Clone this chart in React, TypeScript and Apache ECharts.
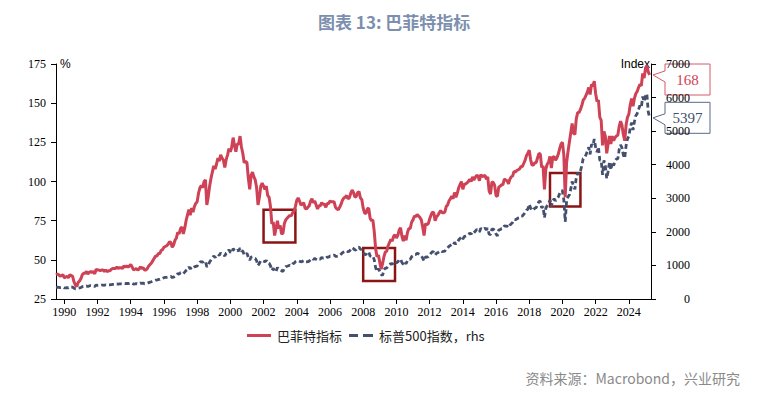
import React, { useEffect, useRef } from 'react';
import * as echarts from 'echarts';

// Monthly categories: 1989-07 .. 2025-05
const firstYear = 1989;
const firstMonth = 7;
const lastYear = 2025;
const lastMonth = 5;
const months: string[] = [];
for (let y = firstYear; y <= lastYear; y++) {
  const m0 = y === firstYear ? firstMonth : 1;
  const m1 = y === lastYear ? lastMonth : 12;
  for (let m = m0; m <= m1; m++) months.push(`${y}-${m < 10 ? '0' + m : m}`);
}

// Buffett indicator (%), monthly, 1989-07 .. 2025-04
const buffett = [
  40.5, 41, 40.5, 39.5, 40, 40.5,
  38.5, 39, 39.5, 38.5, 40.5, 40, 39.5, 36, 34, 33, 35.5, 36.5,
  38, 40.5, 41.5, 41.5, 42.5, 41, 42, 42.5, 42, 42.5, 41, 44,
  43.5, 43.5, 43, 43.5, 43.5, 42.5, 43.5, 42.5, 43, 43, 44, 44.5,
  44.5, 44.5, 45.5, 44.5, 45, 45, 44.5, 46, 45.5, 46, 45.5, 46,
  47, 45.5, 43.5, 44, 44.5, 43.5, 44, 45.5, 44.5, 45, 43.5, 43.5,
  44.5, 46, 47, 48, 49.5, 51, 52.5, 52.5, 54, 54, 56, 56.5,
  58, 58.5, 59, 60, 61.5, 61, 58, 59.5, 62.5, 64, 67.5, 66.5,
  70, 71, 66.5, 70, 75, 78.5, 82, 78.5, 83, 80.5, 84, 86,
  87, 92.5, 96, 97.5, 96, 100, 101, 85, 90, 97, 102, 106,
  110, 108, 111, 115, 113, 117, 115, 113.5, 109, 114, 117, 121,
  119, 122, 128, 123, 119, 124, 124, 129, 122, 118, 112, 113,
  112, 102, 95, 104, 106, 103, 101, 96, 85, 90, 97, 99,
  97, 95, 97, 91, 90, 84, 73, 74, 65.5, 70, 75, 70,
  72, 66.5, 67, 73, 75.5, 76.5, 77.5, 78.5, 78, 80, 81, 84,
  88, 89.5, 87.5, 85, 85.5, 86.5, 83, 82.5, 83.5, 84.5, 87.5, 89,
  86.5, 87.5, 85, 82.5, 84.5, 84.5, 86.5, 85.5, 85.5, 83.5, 86, 86,
  87.5, 87, 87, 87, 83.5, 82.5, 82, 83.5, 85.5, 88, 89.5, 90,
  91, 89, 89.5, 92.5, 94.5, 93, 90, 90.5, 93, 93.5, 89.5, 88.5,
  83, 80, 79.5, 82.5, 83, 76.5, 75, 75.5, 68, 57, 52, 53,
  48.5, 44, 47.5, 52, 55, 55.5, 59, 61, 63, 62, 65, 66,
  64, 65.5, 69, 70.5, 65, 62, 65.5, 62.5, 67.5, 70, 70, 74,
  75.5, 78, 77.5, 79, 78, 77, 75.5, 71, 65.5, 73, 72.5, 73,
  76, 78.5, 80.5, 80, 75, 77.5, 78.5, 80, 81.5, 80, 80, 80.5,
  84, 85, 87.5, 89, 90.5, 89, 93, 90, 92.5, 96, 98, 100,
  95, 98, 98.5, 99, 100, 101.5, 100, 103, 101, 102.5, 104, 103.5,
  100.5, 104.5, 103, 103.5, 104, 101.5, 103, 94, 92, 99.5, 99.5, 97.5,
  91, 90.5, 96.5, 97, 98, 98, 101.5, 101, 100.5, 98.5, 101.5, 103,
  103.5, 106.5, 106, 107, 107.5, 108, 109.5, 109.5, 111.5, 113.5, 116.5, 118,
  120, 114, 110.5, 110.5, 112, 112, 115, 118, 117.5, 109, 110, 95,
  108, 111, 112.5, 116, 108.5, 115.5, 116, 113.5, 115, 117.5, 121, 124,
  125, 117, 90, 112, 119, 125, 131, 137, 131, 130, 140, 144,
  144, 146, 148.5, 152, 153, 155, 157, 160, 155.5, 162, 161, 164,
  156, 151, 152, 141, 139, 123, 132, 129, 118, 124, 129, 124,
  129, 126, 128, 129, 129.5, 135, 138.5, 136, 130, 126, 136, 141,
  143, 149, 153, 148, 153, 156, 157.5, 160, 162, 161, 169, 166,
  172, 174, 170, 168,
];

// S&P 500 index (rhs), monthly, 1989-07 .. 2025-04
const sp500 = [
  346, 351, 349, 340, 346, 353,
  329, 332, 340, 331, 361, 358, 356, 323, 306, 304, 322, 330,
  344, 367, 375, 375, 390, 371, 388, 395, 388, 392, 375, 417,
  409, 413, 404, 415, 415, 408, 424, 414, 418, 419, 431, 436,
  439, 443, 452, 440, 450, 451, 448, 464, 459, 468, 462, 466,
  482, 467, 446, 451, 457, 444, 458, 475, 463, 472, 454, 459,
  470, 487, 501, 515, 533, 545, 562, 562, 584, 582, 605, 616,
  636, 641, 646, 654, 669, 671, 640, 652, 687, 705, 757, 741,
  786, 791, 757, 801, 848, 885, 954, 899, 947, 915, 955, 970,
  980, 1049, 1102, 1112, 1091, 1134, 1121, 957, 1017, 1099, 1164, 1229,
  1280, 1238, 1286, 1335, 1302, 1373, 1329, 1320, 1283, 1363, 1389, 1469,
  1394, 1366, 1499, 1452, 1421, 1455, 1431, 1518, 1437, 1429, 1315, 1320,
  1366, 1240, 1160, 1249, 1256, 1224, 1211, 1134, 1000, 1060, 1139, 1148,
  1130, 1107, 1147, 1077, 1067, 990, 850, 916, 815, 820, 936, 880,
  856, 841, 820, 917, 964, 975, 990, 1008, 996, 1051, 1058, 1112,
  1131, 1145, 1126, 1107, 1121, 1141, 1102, 1104, 1115, 1130, 1174, 1212,
  1181, 1204, 1181, 1157, 1192, 1191, 1234, 1220, 1229, 1207, 1249, 1248,
  1280, 1281, 1295, 1311, 1270, 1270, 1277, 1304, 1336, 1378, 1401, 1418,
  1438, 1407, 1421, 1482, 1531, 1503, 1455, 1474, 1527, 1549, 1481, 1468,
  1379, 1331, 1323, 1386, 1400, 1280, 1267, 1283, 1166, 930, 820, 903,
  826, 735, 700, 873, 919, 919, 987, 1021, 1057, 1036, 1096, 1115,
  1074, 1104, 1169, 1187, 1089, 1031, 1102, 1049, 1141, 1183, 1181, 1258,
  1286, 1327, 1326, 1364, 1345, 1321, 1292, 1219, 1131, 1253, 1247, 1258,
  1312, 1366, 1408, 1398, 1310, 1362, 1379, 1407, 1441, 1412, 1416, 1426,
  1498, 1515, 1569, 1598, 1631, 1606, 1686, 1633, 1682, 1757, 1806, 1848,
  1783, 1859, 1872, 1884, 1924, 1960, 1931, 2003, 1972, 2018, 2068, 2059,
  1995, 2105, 2068, 2086, 2107, 2063, 2104, 1930, 1920, 2079, 2080, 2044,
  1940, 1880, 2060, 2065, 2097, 2099, 2174, 2171, 2168, 2126, 2199, 2239,
  2279, 2364, 2363, 2384, 2412, 2423, 2470, 2472, 2519, 2575, 2648, 2674,
  2824, 2714, 2641, 2648, 2705, 2718, 2816, 2902, 2914, 2712, 2760, 2420,
  2704, 2784, 2834, 2946, 2752, 2942, 2980, 2926, 2977, 3038, 3141, 3231,
  3226, 2954, 2300, 2912, 3044, 3100, 3271, 3500, 3363, 3270, 3622, 3756,
  3714, 3811, 3973, 4181, 4204, 4298, 4395, 4523, 4308, 4605, 4567, 4766,
  4516, 4374, 4530, 4132, 4132, 3700, 4130, 3955, 3590, 3800, 4080, 3840,
  4077, 3970, 4109, 4169, 4180, 4450, 4589, 4508, 4288, 4194, 4568, 4770,
  4846, 5096, 5254, 5036, 5278, 5460, 5522, 5648, 5762, 5705, 6032, 5882,
  6070, 6110, 5580, 5397,
];

// Highlighted episodes (boxes on the Buffett indicator)
const boxes = [
  { from: '2002-01', to: '2003-12', top: 82, bottom: 61 },
  { from: '2008-01', to: '2009-12', top: 57.5, bottom: 36.5 },
  { from: '2019-04', to: '2021-02', top: 105.5, bottom: 84 },
];

const leftAxis = { min: 25, max: 175, step: 25, name: '%' };
const rightAxis = { min: 0, max: 7000, step: 1000, name: 'Index' };

const seriesNames = ['巴菲特指标', '标普500指数，rhs'];
const RED = '#cf4256';
const BLUE = '#44506e';
const serif = "'Liberation Serif', 'Times New Roman', serif";
const cjk = "'Noto Sans CJK SC', 'Noto Sans', sans-serif";

const showYear = (_i: number, v: string) =>
  v.endsWith('-01') && parseInt(v.slice(0, 4), 10) % 2 === 0;

export default function App() {
  const ref = useRef<HTMLDivElement>(null);
  useEffect(() => {
    document.body.style.margin = '0';
    if (!ref.current) return;
    const chart = echarts.init(ref.current, undefined, { renderer: 'svg' });
    const option: any = {
      animation: false,
      backgroundColor: '#fff',
      title: [
        {
          text: '图表 13: 巴菲特指标',
          left: 313,
          top: 8,
          textStyle: { fontFamily: cjk, fontSize: 17, fontWeight: 'bold', color: '#7d8fae' },
        },
        {
          text: '资料来源：Macrobond，兴业研究',
          right: 17,
          top: 366,
          textStyle: { fontFamily: cjk, fontSize: 14, fontWeight: 'normal', color: '#8a8a8a' },
        },
      ],
      legend: {
        left: 242,
        top: 324,
        itemWidth: 24,
        itemHeight: 3,
        itemGap: 7,
        textStyle: { fontFamily: cjk, fontSize: 13, color: '#222', padding: [0, 0, 0, 1] },
        data: [
          { name: seriesNames[0], icon: 'rect' },
          { name: seriesNames[1], icon: 'path://M0,0h9v3h-9z M14,0h10v3h-10z' },
        ],
      },
      grid: { left: 56, right: 111, top: 64, bottom: 97, containLabel: false },
      xAxis: {
        type: 'category',
        data: months,
        boundaryGap: false,
        axisLine: { lineStyle: { color: '#000', width: 1 } },
        axisTick: { interval: showYear, length: 5, lineStyle: { color: '#000' } },
        axisLabel: {
          interval: showYear,
          formatter: (v: string) => v.slice(0, 4),
          fontFamily: serif,
          fontSize: 12,
          color: '#000',
          margin: 7,
        },
        splitLine: { show: false },
      },
      yAxis: [
        {
          type: 'value',
          position: 'left',
          min: leftAxis.min,
          max: leftAxis.max,
          interval: leftAxis.step,
          name: leftAxis.name,
          nameLocation: 'end',
          nameGap: 0,
          nameTextStyle: {
            align: 'left',
            verticalAlign: 'middle',
            padding: [0, 0, 0, 4],
            fontFamily: "'Liberation Sans', sans-serif",
            fontSize: 12,
            color: '#000',
          },
          axisLine: { show: true, lineStyle: { color: '#000', width: 1 } },
          axisTick: { show: true, length: 5, lineStyle: { color: '#000' } },
          axisLabel: { fontFamily: serif, fontSize: 12, color: '#000', margin: 10 },
          splitLine: { show: false },
        },
        {
          type: 'value',
          position: 'right',
          min: rightAxis.min,
          max: rightAxis.max,
          interval: rightAxis.step,
          name: rightAxis.name,
          nameLocation: 'end',
          nameGap: 0,
          nameTextStyle: {
            align: 'right',
            verticalAlign: 'middle',
            padding: [0, 1, 0, 0],
            fontFamily: "'Liberation Sans', sans-serif",
            fontSize: 12,
            color: '#000',
          },
          axisLine: { show: true, lineStyle: { color: '#000', width: 1 } },
          axisTick: { show: true, length: 5, lineStyle: { color: '#000' } },
          axisLabel: {
            fontFamily: serif,
            fontSize: 12,
            color: '#000',
            margin: 39,
            align: 'right',
            formatter: (v: number) => String(v),
          },
          splitLine: { show: false },
        },
      ],
      series: [
        {
          name: seriesNames[0],
          type: 'line',
          yAxisIndex: 0,
          data: buffett,
          showSymbol: false,
          symbol: 'none',
          z: 3,
          lineStyle: { color: RED, width: 3 },
          itemStyle: { color: RED },
          markArea: {
            silent: true,
            itemStyle: { color: 'rgba(0,0,0,0)', borderColor: '#8b1515', borderWidth: 2.5 },
            label: { show: false },
            data: boxes.map((b) => [
              { xAxis: b.from, yAxis: b.top },
              { xAxis: b.to, yAxis: b.bottom },
            ]),
          },
        },
        {
          name: seriesNames[1],
          type: 'line',
          yAxisIndex: 1,
          data: sp500,
          showSymbol: false,
          symbol: 'none',
          z: 2,
          lineStyle: { color: BLUE, width: 2.8, type: [5, 3] },
          itemStyle: { color: BLUE },
        },
      ],
    };
    chart.setOption(option);

    const li = buffett.length - 1;
    const pR = chart.convertToPixel({ seriesIndex: 0 }, [li, buffett[li]]) as number[];
    const pB = chart.convertToPixel({ seriesIndex: 1 }, [li, sp500[li]]) as number[];
    const gridRight = 762 - 111;
    const callout = (tipY: number, text: string, stroke: string, fill: string) => {
      const tipX = gridRight + 2;
      const bx = 665;
      const w = 45;
      const h = 31;
      let top = tipY - h / 2;
      if (top < 64) top = 64;
      const a1 = Math.max(top + 1, tipY - 4);
      const a2 = Math.min(top + h - 1, tipY + 7);
      return {
        type: 'group',
        z: 100,
        children: [
          {
            type: 'polygon',
            shape: {
              points: [
                [bx, top],
                [bx + w, top],
                [bx + w, top + h],
                [bx, top + h],
                [bx, a2],
                [tipX, tipY],
                [bx, a1],
              ],
            },
            style: { fill: '#fff', stroke, lineWidth: 1 },
          },
          {
            type: 'text',
            x: bx + w / 2,
            y: top + h / 2,
            style: {
              text,
              align: 'center',
              verticalAlign: 'middle',
              fontFamily: serif,
              fontSize: 15,
              fill,
            },
          },
        ],
      };
    };
    chart.setOption({
      graphic: [
        callout(pR[1], String(buffett[li]), '#d65a6a', '#cf4256'),
        callout(pB[1], String(sp500[li]), '#5b6989', '#44506e'),
      ],
    });

    return () => chart.dispose();
  }, []);
  return <div ref={ref} style={{ width: 762, height: 396 }} />;
}
